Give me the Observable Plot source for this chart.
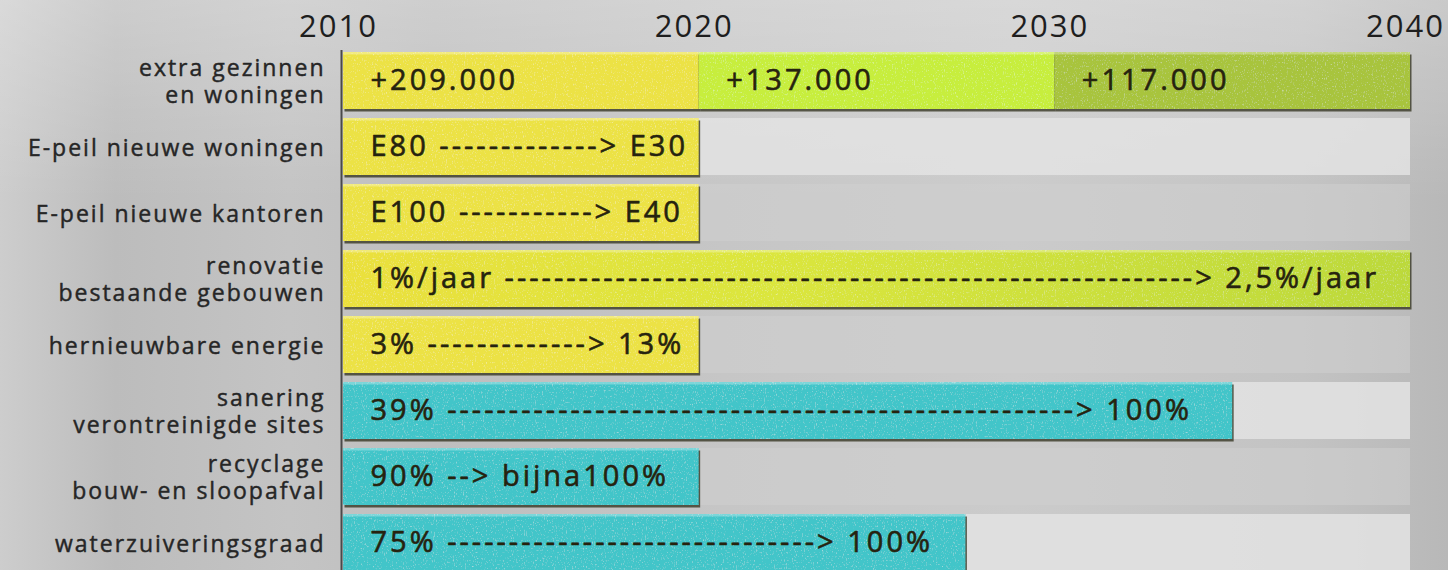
<!DOCTYPE html>
<html>
<head>
<meta charset="utf-8">
<script src="https://cdn.jsdelivr.net/npm/d3@7"></script>
<script src="https://cdn.jsdelivr.net/npm/@observablehq/plot@0.6"></script>
<style>
html, body { margin: 0; padding: 0; }
body {
  width: 1448px; height: 570px; overflow: hidden;
  font-family: "Open Sans", sans-serif;
  background:
    linear-gradient(to bottom, rgba(255,255,255,0.25), rgba(255,255,255,0) 35%),
    linear-gradient(to right, #cdcdcd 0%, #bcbcbc 8%, #c4c4c4 20%, #bebebe 30%, #c6c6c6 50%, #cbcbcb 70%, #c3c3c3 90%, #b8b8b8 100%);
}
#chart svg { display: block; }
.bartext text { letter-spacing: 3px; }
.rowlabel text { letter-spacing: 2px; }
.xaxis text { letter-spacing: 2px; }
.texbars rect { filter: url(#tex); }
</style>
</head>
<body>
<div id="chart"></div>
<script>
// Rows (categories)
const rows = [
  "extra gezinnen\nen woningen",
  "E-peil nieuwe woningen",
  "E-peil nieuwe kantoren",
  "renovatie\nbestaande gebouwen",
  "hernieuwbare energie",
  "sanering\nverontreinigde sites",
  "recyclage\nbouw- en sloopafval",
  "waterzuiveringsgraad"
];

// Bars
const barRow   = [0, 0, 0, 1, 2, 3, 4, 5, 6, 7];
const barStart = [2010, 2020, 2030, 2010, 2010, 2010, 2010, 2010, 2010, 2010];
const barEnd   = [2020, 2030, 2040, 2020, 2020, 2040, 2020, 2035, 2020, 2027.5];
const barText  = [
  "+209.000",
  "+137.000",
  "+117.000",
  "E80 -------------> E30",
  "E100 -----------> E40",
  "1%/jaar --------------------------------------------------------> 2,5%/jaar",
  "3% -------------> 13%",
  "39% ---------------------------------------------------> 100%",
  "90% --> bijna100%",
  "75% ------------------------------> 100%"
];
const barColor = ["#ece244", "#c7ee3e", "#a8c43c", "#ece244", "#ece244", "url(#renov)", "#ece244", "#42c5c9", "#42c5c9", "#42c5c9"];

// Axis ticks
const yearTicks = [2010, 2020, 2030, 2040];
const yearDomain = [2010, 2040];

const bars = barRow.map((r, i) => ({
  row: rows[r], start: barStart[i], end: barEnd[i], text: barText[i], color: barColor[i]
}));
const bands = rows.map((r, i) => ({row: r, start: yearDomain[0], end: yearDomain[1], fill: i % 2 ? "#e3e3e3" : "#cfcfcf", op: i % 2 ? 0.85 : 0.55}));

const defs = () => {
  const d = d3.create("svg:defs");
  const g = d.append("linearGradient").attr("id", "renov").attr("x1", "0").attr("x2", "1").attr("y1", "0").attr("y2", "0");
  g.append("stop").attr("offset", "0%").attr("stop-color", "#ebe03e");
  g.append("stop").attr("offset", "40%").attr("stop-color", "#dbe63c");
  g.append("stop").attr("offset", "100%").attr("stop-color", "#bcd93b");
  const f = d.append("filter").attr("id", "tex").attr("x", "0").attr("y", "0").attr("width", "1").attr("height", "1");
  f.append("feTurbulence").attr("type", "fractalNoise").attr("baseFrequency", "0.9 0.5").attr("numOctaves", "2").attr("seed", "4").attr("result", "noise");
  f.append("feColorMatrix").attr("in", "noise").attr("type", "matrix")
    .attr("values", "0 0 0 0 1  0 0 0 0 1  0 0 0 0 1  0 0 0 1.0 -0.58").attr("result", "spk");
  f.append("feComposite").attr("in", "spk").attr("in2", "SourceAlpha").attr("operator", "in").attr("result", "spk2");
  const m = f.append("feMerge");
  m.append("feMergeNode").attr("in", "SourceGraphic");
  m.append("feMergeNode").attr("in", "spk2");
  return d.node();
};

const chart = Plot.plot({
  width: 1448,
  height: 570,
  marginTop: 50,
  marginBottom: 0,
  marginLeft: 343,
  marginRight: 38,
  style: {background: "transparent", fontFamily: "'Open Sans', sans-serif", overflow: "visible"},
  x: {domain: yearDomain, axis: null},
  y: {domain: rows, range: [40.5, 582], padding: 0.143, axis: null},
  color: {type: "identity"},
  marks: [
    defs,
    Plot.barX(bands, {x1: "start", x2: "end", y: "row", fill: "fill", fillOpacity: "op"}),
    Plot.ruleX([yearDomain[0]], {dx: -2, stroke: "#4a4a4a", strokeWidth: 2}),
    // shadow
    Plot.barX(bars, {x1: "start", x2: "end", y: "row", fill: "#2e2e1a", fillOpacity: 0.75, dx: 1.5, dy: 2.5}),
    Plot.barX(bars, {x1: "start", x2: "end", y: "row", fill: "color", className: "texbars"}),
    // top highlight
    Plot.barX(bars, {x1: "start", x2: "end", y: "row", fill: "#ffffff", fillOpacity: 0.3, insetBottom: 54.5}),
    Plot.text(bars, {x: "start", y: "row", text: "text", dx: 27, textAnchor: "start", fontSize: 29, fill: "#26230f", stroke: "#26230f", strokeWidth: 0.6, className: "bartext"}),
    Plot.text(rows, {x: yearDomain[0], y: d => d, text: d => d, dx: -18, textAnchor: "end", fontSize: 23, lineHeight: 1.17, fill: "#262626", stroke: "#262626", strokeWidth: 0.45, className: "rowlabel"}),
    Plot.axisX({anchor: "top", ticks: yearTicks, tickFormat: "d", tickSize: 0, tickPadding: 14, dx: -5, fontSize: 31, fill: "#1e1e1e", stroke: "#1e1e1e", strokeWidth: 0.8, className: "xaxis"})
  ]
});
document.getElementById("chart").appendChild(chart);
</script>
</body>
</html>
